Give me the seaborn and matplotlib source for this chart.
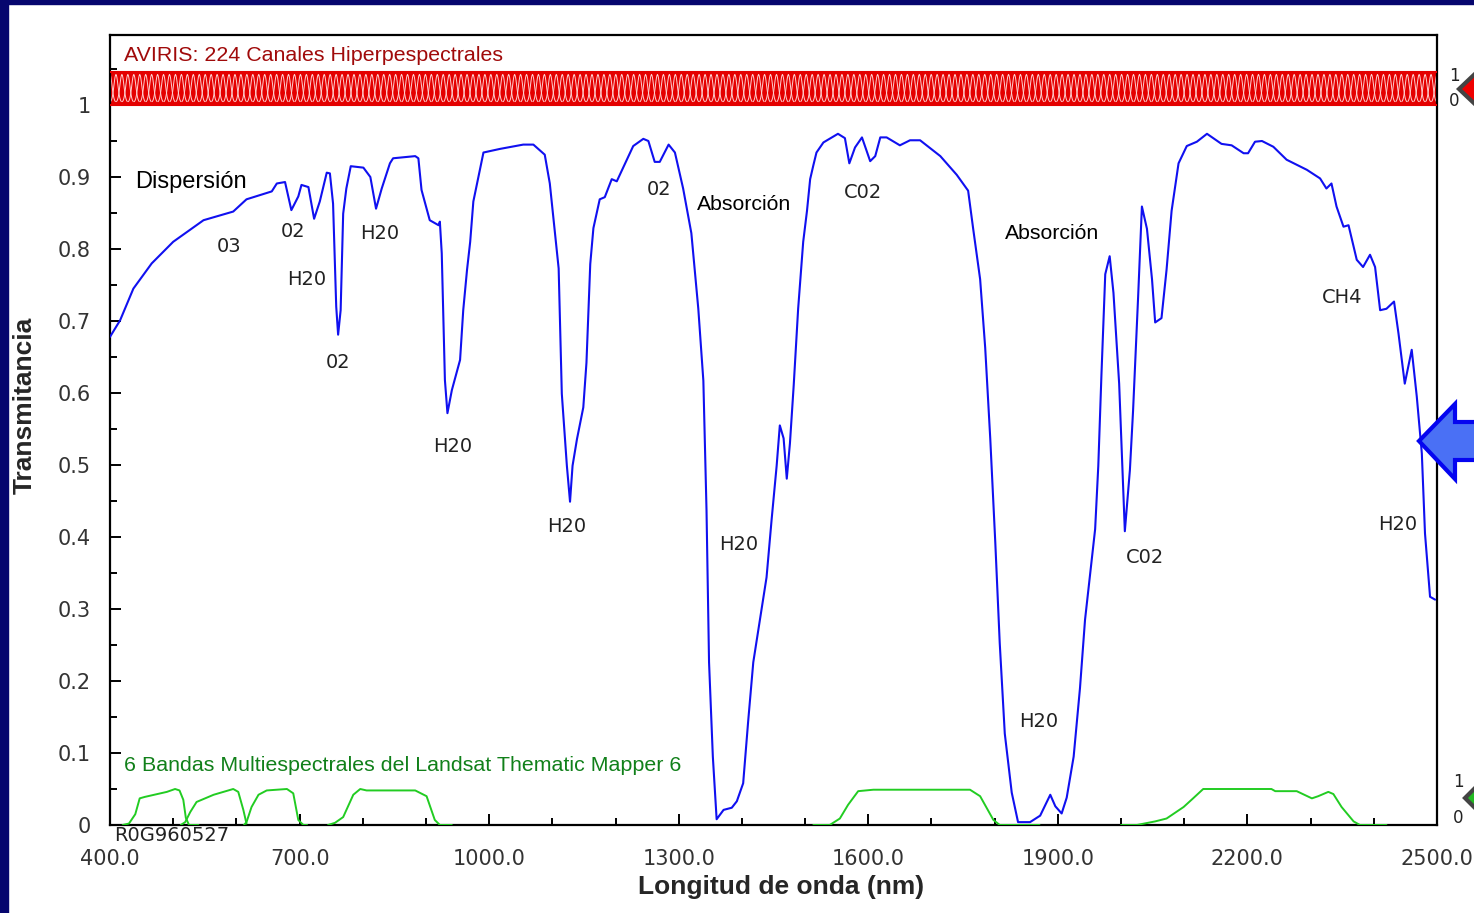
import numpy as np
import pandas as pd
import seaborn as sns
import matplotlib.pyplot as plt
from matplotlib.patches import Polygon, Rectangle
from matplotlib.collections import LineCollection
from matplotlib.ticker import FixedLocator

# atmospheric transmittance spectrum (nm, 0..1)
wavelength = [400, 416, 437, 466, 500, 548, 595, 616, 656, 664, 677, 687, 698, 703, 714,
              723, 732, 743, 748, 753, 758, 761, 765, 769, 774, 781, 801, 812, 821, 830,
              843, 848, 883, 888, 893, 906, 920, 922, 925, 930, 934, 941, 954, 959, 965,
              970, 975, 991, 1017, 1054, 1070, 1088, 1096, 1110, 1115, 1123, 1128, 1132,
              1139, 1149, 1154, 1160, 1165, 1175, 1183, 1194, 1202, 1228, 1244, 1252,
              1262, 1270, 1284, 1294, 1307, 1320, 1331, 1339, 1344, 1348, 1354, 1360,
              1371, 1384, 1392, 1402, 1410, 1418, 1429, 1439, 1447, 1455, 1460, 1466,
              1471, 1476, 1482, 1489, 1497, 1503, 1508, 1513, 1518, 1529, 1552, 1563,
              1570, 1579, 1590, 1603, 1611, 1619, 1629, 1650, 1666, 1682, 1714, 1740,
              1758, 1766, 1777, 1785, 1793, 1801, 1808, 1816, 1827, 1837, 1856, 1872,
              1888, 1896, 1906, 1914, 1925, 1935, 1943, 1951, 1959, 1964, 1969, 1975,
              1982, 1988, 1997, 2004, 2006, 2014, 2019, 2027, 2033, 2041, 2049, 2054,
              2064, 2072, 2080, 2091, 2104, 2120, 2136, 2159, 2175, 2194, 2201, 2212,
              2223, 2241, 2262, 2294, 2315, 2325, 2333, 2341, 2352, 2360, 2373, 2383,
              2394, 2402, 2410, 2420, 2432, 2439, 2449, 2460, 2468, 2476, 2481, 2489, 2497]
transmittance = [0.678, 0.701, 0.745, 0.780, 0.810, 0.840, 0.852, 0.869, 0.880, 0.891, 0.893,
                 0.854, 0.873, 0.889, 0.886, 0.842, 0.866, 0.906, 0.905, 0.863, 0.720, 0.681,
                 0.715, 0.849, 0.884, 0.915, 0.913, 0.900, 0.856, 0.884, 0.919, 0.926, 0.929,
                 0.926, 0.882, 0.840, 0.833, 0.838, 0.794, 0.618, 0.572, 0.604, 0.646, 0.715,
                 0.771, 0.810, 0.866, 0.934, 0.939, 0.945, 0.945, 0.931, 0.891, 0.773, 0.599,
                 0.499, 0.449, 0.499, 0.536, 0.580, 0.642, 0.779, 0.829, 0.869, 0.872, 0.897,
                 0.894, 0.943, 0.953, 0.950, 0.921, 0.921, 0.945, 0.934, 0.884, 0.822, 0.717,
                 0.617, 0.437, 0.226, 0.095, 0.008, 0.021, 0.024, 0.033, 0.058, 0.145, 0.226,
                 0.288, 0.344, 0.424, 0.499, 0.555, 0.537, 0.481, 0.530, 0.611, 0.717, 0.810,
                 0.853, 0.897, 0.916, 0.934, 0.948, 0.960, 0.954, 0.919, 0.941, 0.955, 0.922,
                 0.929, 0.955, 0.955, 0.944, 0.951, 0.951, 0.929, 0.903, 0.881, 0.828, 0.758,
                 0.663, 0.537, 0.392, 0.253, 0.127, 0.045, 0.004, 0.004, 0.013, 0.042, 0.026,
                 0.016, 0.038, 0.095, 0.190, 0.285, 0.348, 0.411, 0.499, 0.626, 0.765, 0.790,
                 0.739, 0.613, 0.455, 0.408, 0.493, 0.575, 0.733, 0.859, 0.828, 0.758, 0.698,
                 0.704, 0.771, 0.853, 0.919, 0.943, 0.949, 0.960, 0.946, 0.944, 0.933, 0.933,
                 0.949, 0.950, 0.942, 0.924, 0.910, 0.898, 0.884, 0.891, 0.859, 0.831, 0.833,
                 0.785, 0.775, 0.792, 0.775, 0.715, 0.717, 0.727, 0.683, 0.613, 0.660, 0.595,
                 0.516, 0.405, 0.317, 0.313]

# Landsat TM band responses (scaled to 0.05)
tm_band = [1] * 13 + [2] * 9 + [3] * 10 + [4] * 11 + [5] * 12 + [7] * 18
tm_wl = [420, 430, 440, 447, 455, 470, 490, 503, 510, 516, 520, 525, 540,
         512, 519, 527, 537, 564, 595, 603, 611, 616,
         612, 616, 624, 635, 648, 680, 690, 698, 706, 712,
         745, 756, 769, 785, 796, 806, 883, 901, 914, 922, 941,
         1513, 1539, 1555, 1568, 1584, 1608, 1761, 1777, 1798, 1808, 1840, 1871,
         2000, 2025, 2054, 2072, 2099, 2114, 2130, 2238, 2244, 2278, 2302, 2312,
         2328, 2336, 2349, 2368, 2378, 2420]
tm_resp = [0, 0.002, 0.015, 0.037, 0.039, 0.042, 0.046, 0.050, 0.048, 0.035, 0.010, 0, 0,
           0, 0.004, 0.018, 0.032, 0.042, 0.050, 0.046, 0.021, 0.002,
           0, 0.004, 0.025, 0.042, 0.048, 0.050, 0.044, 0.007, 0, 0,
           0, 0.003, 0.011, 0.042, 0.050, 0.048, 0.048, 0.040, 0.007, 0, 0,
           0, 0, 0.009, 0.028, 0.047, 0.049, 0.049, 0.040, 0.007, 0, 0, 0,
           0, 0, 0.005, 0.009, 0.025, 0.037, 0.050, 0.050, 0.047, 0.047, 0.037, 0.040,
           0.046, 0.043, 0.025, 0.005, 0, 0]

n_channels = 224
x_ticks = [400, 700, 1000, 1300, 1600, 1900, 2200, 2500]
x_labels = ["400.0", "700.0", "1000.0", "1300.0", "1600.0", "1900.0", "2200.0", "2500.0"]
y_ticks = [0, 0.1, 0.2, 0.3, 0.4, 0.5, 0.6, 0.7, 0.8, 0.9, 1.0]
y_labels = ["0", "0.1", "0.2", "0.3", "0.4", "0.5", "0.6", "0.7", "0.8", "0.9", "1"]

# gas labels: (text, x nm, y)
annotations = [
    ("03", 588, 0.803), ("02", 690, 0.824), ("H20", 712, 0.758), ("02", 761, 0.643),
    ("H20", 827, 0.822), ("H20", 943, 0.526), ("H20", 1123, 0.414), ("02", 1269, 0.882),
    ("C02", 1592, 0.878), ("H20", 1395, 0.389), ("H20", 1869, 0.144), ("C02", 2038, 0.371),
    ("CH4", 2350, 0.733), ("H20", 2438, 0.417),
]

W, H = 1474, 913
sns.set_theme(style="white")
plt.rcParams['font.family'] = ['Liberation Sans', 'DejaVu Sans']

fig = plt.figure(figsize=(W / 100, H / 100), dpi=100)
fig.patch.set_facecolor('white')


def fx(px):
    return px / W


def fy(py):
    return 1 - py / H


ax = fig.add_axes([fx(110), fy(825), (1437 - 110) / W, (825 - 35) / H])
ax.set_xlim(400, 2500)
ax.set_ylim(0, (825 - 35) / 720)

# AVIRIS channel strip
top = 1.046
ax.axhspan(1.0, top, color='#e40000', lw=0, zorder=1)
centers = np.linspace(400, 2500, n_channels)
segs = []
for c in centers:
    xs = np.linspace(c - 9, c + 9, 25)
    ys = 1.0 + (top - 1.0) * (0.08 + 0.84 * np.exp(-0.5 * ((xs - c) / 3.2) ** 2))
    segs.append(np.column_stack([xs, ys]))
ax.add_collection(LineCollection(segs, colors='#ffd0d0', linewidths=0.7, zorder=2))
ax.plot([400, 2500], [1.0, 1.0], color='#e40000', lw=1.5, zorder=3)
ax.plot([400, 2500], [top, top], color='#e40000', lw=1.5, zorder=3)

# transmittance curve
spec = pd.DataFrame({"wl": wavelength, "t": transmittance})
sns.lineplot(data=spec, x="wl", y="t", ax=ax, color='#1010f0', lw=1.5, zorder=4)

# Landsat TM bands
tm = pd.DataFrame({"band": tm_band, "wl": tm_wl, "r": tm_resp})
for b, g in tm.groupby("band"):
    sns.lineplot(data=g, x="wl", y="r", ax=ax, color='#22cc22', lw=1.4, zorder=4)

ax.set_xlabel("")
ax.set_ylabel("")
ax.xaxis.set_major_locator(FixedLocator(x_ticks))
ax.set_xticklabels(x_labels)
ax.xaxis.set_minor_locator(FixedLocator(np.arange(500, 2500, 100)))
ax.yaxis.set_major_locator(FixedLocator(y_ticks))
ax.set_yticklabels(y_labels)
ax.yaxis.set_minor_locator(FixedLocator(np.arange(0.05, 1.06, 0.1)))
ax.tick_params(axis='both', which='both', direction='in', colors='black',
               labelcolor='#333333', labelsize=15, width=1.4)
ax.tick_params(axis='both', which='major', length=8)
ax.tick_params(axis='both', which='minor', length=5)
ax.tick_params(axis='x', which='both', bottom=True, top=False, pad=17)
ax.tick_params(axis='y', which='both', left=True, right=False, pad=14)
for lab in ax.get_xticklabels() + ax.get_yticklabels():
    lab.set_family('DejaVu Sans')
for s in ax.spines.values():
    s.set_color('black')
    s.set_linewidth(1.6)

for txt, x, y in annotations:
    ax.text(x, y, txt, ha='center', va='center', fontsize=14, color='#222222',
            family='DejaVu Sans', zorder=5)
ax.text(440, 0.893, "Dispersión", ha='left', va='center', fontsize=17, color='black')
ax.text(1329, 0.8625, "Absorción", ha='left', va='center', fontsize=15.3, color='black')
ax.text(1816, 0.821, "Absorción", ha='left', va='center', fontsize=15.3, color='black')
ax.text(422, 1.069, "AVIRIS: 224 Canales Hiperpespectrales", ha='left', va='center',
        fontsize=15.4, color='#a00a0a')
ax.text(422, 0.083, "6 Bandas Multiespectrales del Landsat Thematic Mapper 6", ha='left',
        va='center', fontsize=15.4, color='#11801a')
ax.text(406, -0.015, "R0G960527", ha='left', va='center', fontsize=14, color='#222222',
        family='DejaVu Sans', clip_on=False)

fig.text(fx(25), fy(405), "Transmitancia", rotation=90, ha='center', va='center',
         fontsize=19, fontweight='bold')
fig.text(fx(781), fy(887), "Longitud de onda (nm)", ha='center', va='center',
         fontsize=19, fontweight='bold')

# frame and side markers
fig.patches.append(Rectangle((0, 0), fx(8), 1, transform=fig.transFigure,
                             color='#06066e', zorder=10))
fig.patches.append(Rectangle((0, fy(4)), 1, 4 / H, transform=fig.transFigure,
                             color='#06066e', zorder=10))


def fig_poly(pts, fc, ec, lw):
    p = Polygon([(fx(a), fy(b)) for a, b in pts], closed=True, transform=fig.transFigure,
                facecolor=fc, edgecolor=ec, lw=lw, zorder=10, joinstyle='miter')
    fig.patches.append(p)


fig_poly([(1419, 441), (1455, 404), (1455, 422), (1480, 422), (1480, 460), (1455, 460),
          (1455, 479)], '#4a70f5', '#0505f0', 3)
fig_poly([(1459, 89), (1478, 71), (1478, 107)], '#ee0000', '#444444', 3)
fig_poly([(1465, 798), (1480, 783), (1480, 813)], '#22bb22', '#444444', 3)
for t, px, py in [("1", 1454, 76), ("0", 1454, 101), ("1", 1458, 782), ("0", 1458, 818)]:
    fig.text(fx(px), fy(py), t, ha='center', va='center', fontsize=12, color='#222222',
             family='DejaVu Sans')

fig.savefig("out.png", dpi=100)
